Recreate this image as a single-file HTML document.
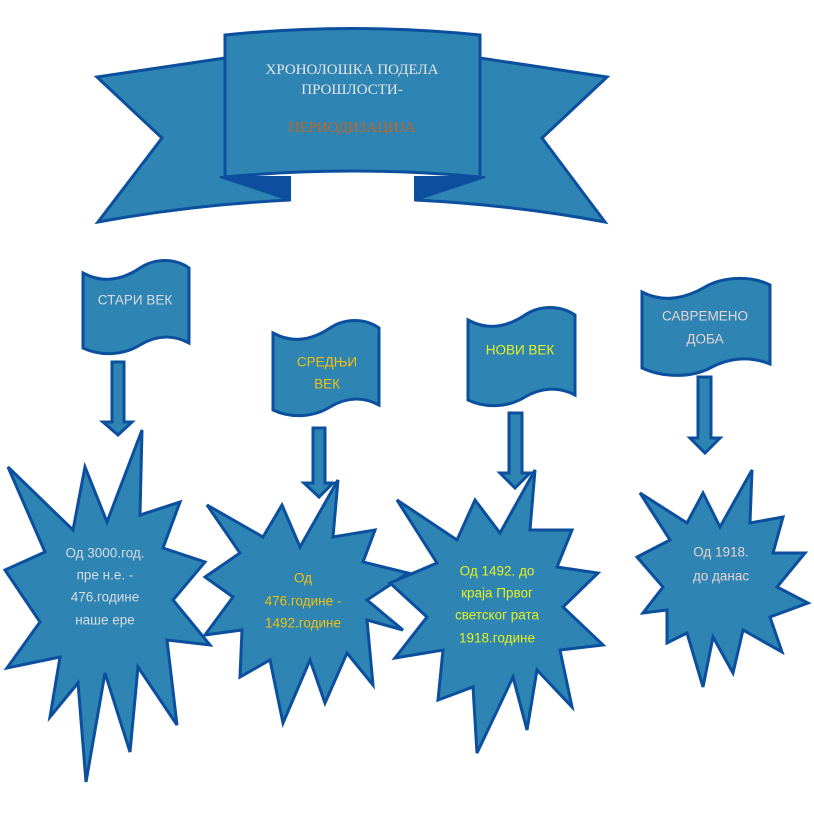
<!DOCTYPE html>
<html><head><meta charset="utf-8"><style>
html,body{margin:0;padding:0;background:#fff;width:814px;height:831px;overflow:hidden}
svg{display:block}
.s{fill:#2e84b2;stroke:#0b4f9e;stroke-width:3;stroke-linejoin:miter}
.t{font-family:"Liberation Sans",sans-serif;font-size:13.5px;text-anchor:middle;dominant-baseline:central}
.h{font-family:"Liberation Serif",serif;font-size:15px;text-anchor:middle;dominant-baseline:central}
</style></head><body>
<svg width="814" height="831" viewBox="0 0 814 831" xmlns="http://www.w3.org/2000/svg">
<path class="s" d="M97,77 L225,58 L225,177 L290,200 Q190,205 98,222 L162,138 Z"/>
<path class="s" d="M607,77 L480,58 L480,177 L415,200 Q515,205 605,222 L542,138 Z"/>
<path d="M220,177 L290,177 L290,200 Z" fill="#0d4f9e" stroke="#0b4f9e" stroke-width="2"/>
<path d="M485,177 L415,177 L415,200 Z" fill="#0d4f9e" stroke="#0b4f9e" stroke-width="2"/>
<path class="s" d="M225,35 Q352,22 480,35 L480,177 Q352,165 225,177 Z"/>
<text class="h" x="352" y="70" fill="#e6e6e6">ХРОНОЛОШКА ПОДЕЛА</text>
<text class="h" x="352" y="90" fill="#e6e6e6">ПРОШЛОСТИ-</text>
<text class="h" x="352" y="128" fill="#c8651e">ПЕРИОДИЗАЦИЈА</text>

<path class="s" d="M83,273 C105,285 125,278 140,268 C155,258 175,258 189,268 L189,343 C172,334 155,336 140,345 C122,356 100,356 83,348 Z"/>
<text class="t" x="135" y="300" fill="#d6dde4">СТАРИ  ВЕК</text>
<path class="s" d="M273,333 C295,345 315,338 330,328 C345,318 365,318 379,328 L379,405 C362,396 345,398 330,407 C312,418 290,418 273,410 Z"/>
<text class="t" x="327" y="362" fill="#f0c010">СРЕДЊИ</text>
<text class="t" x="327" y="384" fill="#f0c010">ВЕК</text>
<path class="s" d="M468,320 C490,332 510,325 525,315 C540,305 560,305 575,315 L575,395 C558,386 540,388 525,397 C507,408 485,408 468,400 Z"/>
<text class="t" x="520" y="350" fill="#e4f020">НОВИ ВЕК</text>
<path class="s" d="M642,292 C665,304 688,297 705,287 C722,277 750,275 770,285 L770,364 C750,356 730,358 712,367 C692,378 664,378 642,368 Z"/>
<text class="t" x="705" y="316" fill="#e4d4d4">САВРЕМЕНО</text>
<text class="t" x="705" y="339" fill="#e4d4d4">ДОБА</text>

<path class="s" d="M112,362 L124,362 L124,422 L132,422 L118,435 L103,422 L112,422 Z"/>
<path class="s" d="M313,428 L325,428 L325,483 L333,483 L319,497 L304,483 L313,483 Z"/>
<path class="s" d="M509,413 L522,413 L522,473 L530,473 L515,488 L500,473 L509,473 Z"/>
<path class="s" d="M698,377 L711,377 L711,438 L720,438 L705,453 L690,438 L698,438 Z"/>

<polygon class="s" points="142,430 140,515 180,502 163,548 205,562 173,600 210,645 167,640 177,725 138,667 130,752 105,673 86,782 78,683 50,717 60,657 7,668 40,622 5,570 45,552 8,467 73,530 85,467 107,522"/>
<text class="t" x="105" y="553" fill="#d6dde4">Од 3000.год.</text>
<text class="t" x="105" y="575" fill="#d6dde4">пре н.е. -</text>
<text class="t" x="105" y="597" fill="#d6dde4">476.године</text>
<text class="t" x="105" y="620" fill="#d6dde4">наше ере</text>

<polygon class="s" points="338,480 333,537 375,530 363,562 408,573 367,600 403,630 367,620 373,685 347,653 325,703 310,660 283,723 270,660 240,677 242,630 205,635 233,597 205,577 240,553 207,505 263,537 282,505 300,547"/>
<text class="t" x="303" y="578" fill="#f0c010">Од</text>
<text class="t" x="303" y="601" fill="#f0c010">476.године -</text>
<text class="t" x="303" y="623" fill="#f0c010">1492.године</text>

<polygon class="s" points="535,470 530,530 572,530 557,567 598,573 563,607 603,645 560,650 572,707 537,670 527,730 513,677 477,753 473,687 438,700 443,650 395,658 427,617 390,583 437,563 397,500 457,540 475,500 500,533"/>
<text class="t" x="497" y="571" fill="#e4f020">Од 1492. до</text>
<text class="t" x="497" y="593" fill="#e4f020">краја Првог</text>
<text class="t" x="497" y="615" fill="#e4f020">светског рата</text>
<text class="t" x="497" y="638" fill="#e4f020">1918.године</text>

<polygon class="s" points="752,470 750,523 783,517 773,553 805,553 777,587 808,603 770,617 782,652 743,630 733,673 713,637 703,687 687,633 667,643 667,610 643,613 663,587 637,557 670,540 640,493 687,523 703,493 720,527"/>
<text class="t" x="721" y="552" fill="#e4d4d4">Од 1918.</text>
<text class="t" x="721" y="576" fill="#e4d4d4">до данас</text>
</svg>
</body></html>
